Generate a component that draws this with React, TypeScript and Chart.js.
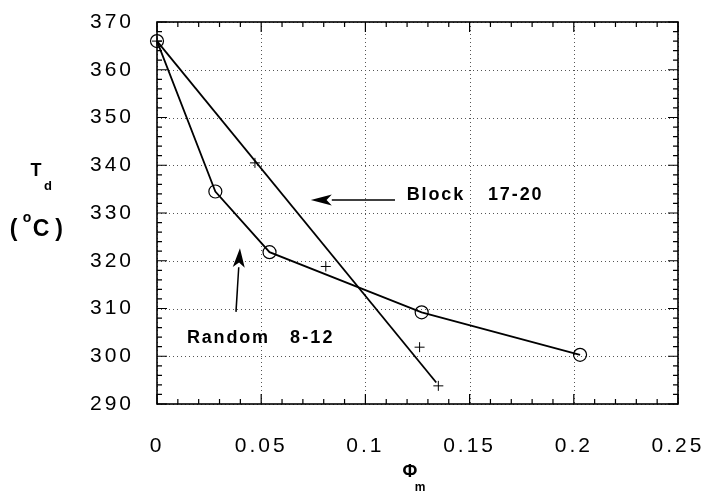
import React, { useEffect, useRef } from "react";
import { Chart, registerables } from "chart.js";

Chart.register(...registerables);

// ---- data ----
const randomPhi = [0, 0.028, 0.054, 0.127, 0.203];
const randomTd = [366, 334.5, 321.8, 309.2, 300.3];
const blockPhi = [0, 0.047, 0.081, 0.126, 0.135];
const blockTd = [366, 340.5, 318.8, 301.9, 293.8];
const blockFitPhi = [0, 0.134];
const blockFitTd = [366, 294.5];
const xTickValues = [0, 0.05, 0.1, 0.15, 0.2, 0.25];
const xTickLabels = ["0", "0.05", "0.1", "0.15", "0.2", "0.25"];
const yTickValues = [290, 300, 310, 320, 330, 340, 350, 360, 370];
const yTickLabels = ["290", "300", "310", "320", "330", "340", "350", "360", "370"];
const xMinorStep = 0.01;
const yMinorStep = 2;

// annotations in data coordinates
const blockLabel = { text1: "Block", text2: "17-20", x1: 0.1198, x2: 0.1588, y: 333.8 };
const blockArrow = { fromX: 0.1142, fromY: 332.7, toX: 0.0738, toY: 332.7 };
const randomLabel = { text1: "Random", text2: "8-12", x1: 0.0144, x2: 0.0638, y: 303.9 };
const randomArrow = { fromX: 0.0379, fromY: 309.3, toX: 0.0398, toY: 322.6 };

const FONT = "'Liberation Sans', Arial, Helvetica, sans-serif";

function spacedText(ctx: CanvasRenderingContext2D, text: string, x: number, y: number, spacing: number, align: "left" | "center" | "right") {
  const chars = text.split("");
  const widths = chars.map((c) => ctx.measureText(c).width);
  const total = widths.reduce((a, b) => a + b, 0) + spacing * (chars.length - 1);
  let cx = align === "left" ? x : align === "center" ? x - total / 2 : x - total;
  ctx.save();
  ctx.textAlign = "left";
  chars.forEach((c, i) => {
    ctx.fillText(c, cx, y);
    cx += widths[i] + spacing;
  });
  ctx.restore();
}

function arrow(ctx: CanvasRenderingContext2D, x1: number, y1: number, x2: number, y2: number, headLen: number, headHalf: number) {
  const ang = Math.atan2(y2 - y1, x2 - x1);
  const bx = x2 - Math.cos(ang) * headLen;
  const by = y2 - Math.sin(ang) * headLen;
  ctx.beginPath();
  ctx.moveTo(x1, y1);
  ctx.lineTo(bx, by);
  ctx.stroke();
  ctx.beginPath();
  ctx.moveTo(x2, y2);
  ctx.lineTo(bx + Math.sin(ang) * headHalf, by - Math.cos(ang) * headHalf);
  ctx.lineTo(bx + Math.cos(ang) * headLen * 0.25, by + Math.sin(ang) * headLen * 0.25);
  ctx.lineTo(bx - Math.sin(ang) * headHalf, by + Math.cos(ang) * headHalf);
  ctx.closePath();
  ctx.fill();
}

const decorPlugin = {
  id: "decor",
  beforeDatasetsDraw(chart: any) {
    const { ctx, chartArea: a } = chart;
    const xs = chart.scales.x;
    const ys = chart.scales.y;
    ctx.save();
    ctx.strokeStyle = "#555";
    ctx.lineWidth = 1;
    ctx.setLineDash([1, 3]);
    xTickValues.forEach((v) => {
      const px = Math.round(xs.getPixelForValue(v)) + 0.5;
      ctx.beginPath();
      ctx.moveTo(px, a.top);
      ctx.lineTo(px, a.bottom);
      ctx.stroke();
    });
    yTickValues.forEach((v) => {
      const py = Math.round(ys.getPixelForValue(v)) + 0.5;
      ctx.beginPath();
      ctx.moveTo(a.left, py);
      ctx.lineTo(a.right, py);
      ctx.stroke();
    });
    ctx.restore();
  },
  afterDatasetsDraw(chart: any) {
    const { ctx, chartArea: a } = chart;
    const xs = chart.scales.x;
    const ys = chart.scales.y;
    ctx.save();
    (ctx as any).letterSpacing = "0px";
    ctx.strokeStyle = "#000";
    ctx.fillStyle = "#000";
    ctx.setLineDash([]);
    // frame
    ctx.lineWidth = 1.6;
    ctx.strokeRect(a.left, a.top, a.right - a.left, a.bottom - a.top);
    // ticks
    ctx.lineWidth = 1.2;
    const nx = Math.round((0.25 - 0) / xMinorStep);
    for (let i = 0; i <= nx; i++) {
      const v = i * xMinorStep;
      const major = i % 5 === 0;
      const len = major ? 10 : 5;
      const px = xs.getPixelForValue(v);
      ctx.beginPath();
      ctx.moveTo(px, a.bottom);
      ctx.lineTo(px, a.bottom - len);
      ctx.moveTo(px, a.top);
      ctx.lineTo(px, a.top + len);
      ctx.stroke();
    }
    const ny = Math.round((370 - 290) / yMinorStep);
    for (let i = 0; i <= ny; i++) {
      const v = 290 + i * yMinorStep;
      const major = i % 5 === 0;
      const len = major ? 10 : 5;
      const py = ys.getPixelForValue(v);
      ctx.beginPath();
      ctx.moveTo(a.left, py);
      ctx.lineTo(a.left + len, py);
      ctx.moveTo(a.right, py);
      ctx.lineTo(a.right - len, py);
      ctx.stroke();
    }
    // annotations
    ctx.font = `bold 18px ${FONT}`;
    ctx.textBaseline = "middle";
    spacedText(ctx, blockLabel.text1, xs.getPixelForValue(blockLabel.x1), ys.getPixelForValue(blockLabel.y), 1.9, "left");
    spacedText(ctx, blockLabel.text2, xs.getPixelForValue(blockLabel.x2), ys.getPixelForValue(blockLabel.y), 1.9, "left");
    spacedText(ctx, randomLabel.text1, xs.getPixelForValue(randomLabel.x1), ys.getPixelForValue(randomLabel.y), 1.8, "left");
    spacedText(ctx, randomLabel.text2, xs.getPixelForValue(randomLabel.x2), ys.getPixelForValue(randomLabel.y), 2.2, "left");
    ctx.lineWidth = 1.5;
    arrow(ctx, xs.getPixelForValue(blockArrow.fromX), ys.getPixelForValue(blockArrow.fromY), xs.getPixelForValue(blockArrow.toX), ys.getPixelForValue(blockArrow.toY), 21, 5.5);
    arrow(ctx, xs.getPixelForValue(randomArrow.fromX), ys.getPixelForValue(randomArrow.fromY), xs.getPixelForValue(randomArrow.toX), ys.getPixelForValue(randomArrow.toY), 19, 6);
    // axis titles
    ctx.textAlign = "center";
    ctx.textBaseline = "middle";
    ctx.font = `bold 18px ${FONT}`;
    ctx.fillText("T", 36, 171);
    ctx.font = `bold 13px ${FONT}`;
    ctx.fillText("d", 48, 186);
    ctx.font = `bold 23px ${FONT}`;
    ctx.fillText("(", 13.5, 230);
    ctx.fillText("C", 41, 230);
    ctx.fillText(")", 59, 230);
    ctx.font = `bold 14px ${FONT}`;
    ctx.fillText("o", 27, 218);
    ctx.font = `bold 18px ${FONT}`;
    ctx.fillText("\u03A6", 410, 472);
    ctx.font = `bold 12px ${FONT}`;
    ctx.fillText("m", 420, 488);
    ctx.restore();
  },
  beforeDraw(chart: any) {
    (chart.ctx as any).letterSpacing = "3px";
  },
  afterDraw(chart: any) {
    (chart.ctx as any).letterSpacing = "0px";
  },
};

export default function App() {
  const ref = useRef<HTMLCanvasElement | null>(null);
  useEffect(() => {
    document.body.style.margin = "0";
    if (!ref.current) return;
    const chart = new Chart(ref.current, {
      type: "scatter",
      data: {
        datasets: [
          {
            label: "Random 8-12",
            data: randomPhi.map((x, i) => ({ x, y: randomTd[i] })),
            showLine: true,
            borderColor: "#000",
            borderWidth: 1.8,
            pointStyle: "circle",
            pointRadius: 6.5,
            pointBorderWidth: 1.2,
            pointBorderColor: "#000",
            pointBackgroundColor: "rgba(0,0,0,0)",
            backgroundColor: "rgba(0,0,0,0)",
            clip: false,
          },
          {
            label: "Block 17-20 fit",
            data: blockFitPhi.map((x, i) => ({ x, y: blockFitTd[i] })),
            showLine: true,
            borderColor: "#000",
            borderWidth: 1.8,
            pointRadius: 0,
            clip: false,
          },
          {
            label: "Block 17-20",
            data: blockPhi.map((x, i) => ({ x, y: blockTd[i] })),
            showLine: false,
            pointStyle: "cross",
            pointRadius: 5,
            pointBorderWidth: 1,
            pointBorderColor: "#000",
            borderColor: "#000",
            clip: false,
          },
        ],
      },
      options: {
        animation: false,
        responsive: false,
        layout: { padding: { left: 0, top: 22, right: 32, bottom: 0 }, autoPadding: false },
        plugins: { legend: { display: false }, tooltip: { enabled: false } },
        scales: {
          x: {
            type: "linear",
            min: 0,
            max: 0.25,
            afterBuildTicks: (s: any) => {
              s.ticks = xTickValues.map((v) => ({ value: v }));
            },
            afterFit: (s: any) => {
              s.height = 89;
              s.paddingLeft = 0;
              s.paddingRight = 0;
              s.paddingTop = 0;
              s.paddingBottom = 0;
            },
            ticks: {
              callback: (_v: any, i: number) => xTickLabels[i],
              color: "#000",
              font: { family: FONT, size: 21 },
              padding: 30,
              maxRotation: 0,
              autoSkip: false,
            },
            grid: { display: false, drawTicks: false },
            border: { display: false },
          },
          y: {
            type: "linear",
            min: 290,
            max: 370,
            afterBuildTicks: (s: any) => {
              s.ticks = yTickValues.map((v) => ({ value: v }));
            },
            afterFit: (s: any) => {
              s.width = 157;
              s.paddingLeft = 0;
              s.paddingRight = 0;
              s.paddingTop = 0;
              s.paddingBottom = 0;
            },
            ticks: {
              callback: (_v: any, i: number) => yTickLabels[i],
              color: "#000",
              font: { family: FONT, size: 21 },
              padding: 23,
              autoSkip: false,
            },
            grid: { display: false, drawTicks: false },
            border: { display: false },
          },
        },
      },
      plugins: [decorPlugin],
    } as any);
    return () => chart.destroy();
  }, []);
  return (
    <div style={{ position: "absolute", left: 0, top: 0, width: 710, height: 493, background: "#fff" }}>
      <canvas ref={ref} width={710} height={493} />
    </div>
  );
}
